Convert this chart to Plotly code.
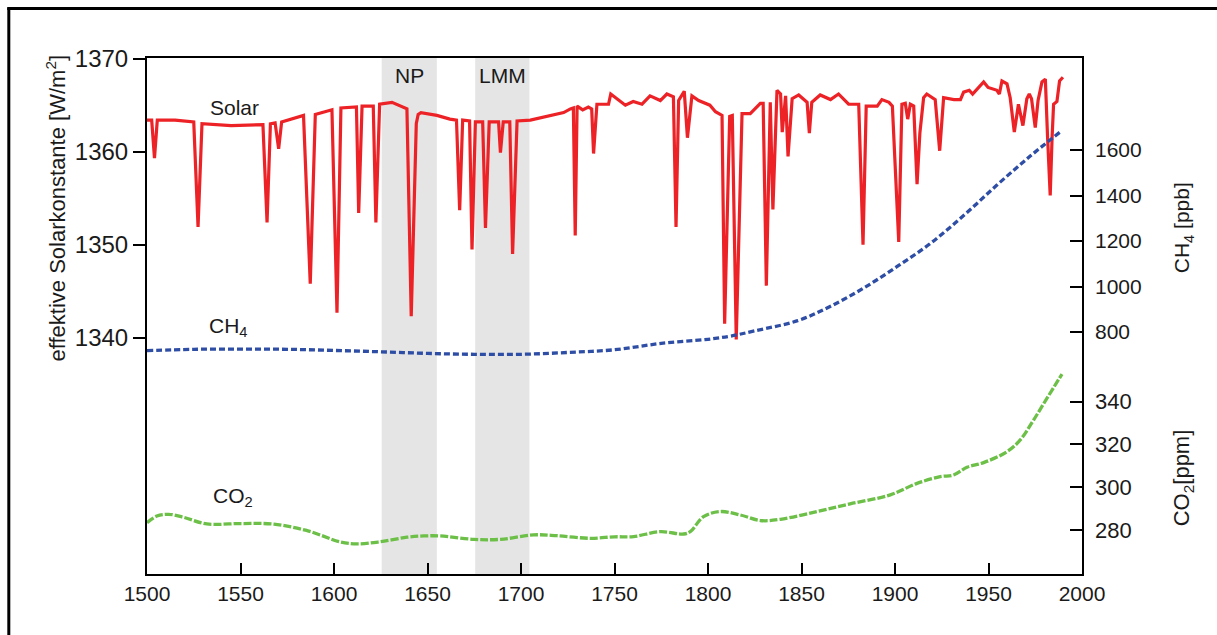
import plotly.graph_objects as go

# ---------------- data ----------------
solar_years = [1500, 1502.5, 1504, 1505.5, 1515, 1525, 1527.3, 1529.4, 1545, 1562, 1564.2, 1566, 1568.5, 1570.4, 1572,
               1583.7, 1587.3, 1590, 1598.9, 1601.6, 1603.7, 1612, 1613.2, 1615, 1621, 1622.4, 1624.4, 1631, 1639,
               1641.3, 1644, 1645, 1646.5, 1655, 1662, 1665.5, 1667.2, 1668.8, 1672.5, 1673.8, 1675.6, 1679.5, 1681,
               1683, 1688, 1689, 1690.5, 1694, 1695.5, 1697.9, 1705, 1722.8, 1726.4, 1728, 1729, 1730, 1733, 1736,
               1737.8, 1738.8, 1740.6, 1746.8, 1748, 1755.8, 1760, 1764.7, 1769, 1774.5, 1778, 1781.5, 1782.9, 1784.3,
               1787.3, 1789, 1791.4, 1795, 1801, 1804, 1807.5, 1808.9, 1811.6, 1813, 1815.1, 1818.2, 1822.6, 1828,
               1829.5, 1831.2, 1833.3, 1834.7, 1836.9, 1838.8, 1839.7, 1841.5, 1842.8, 1845, 1848.5, 1853, 1854.2,
               1855.5, 1860, 1865.5, 1869.8, 1875.2, 1880.6, 1882.9, 1884.6, 1890.5, 1893, 1896.8, 1898.6, 1902,
               1903.7, 1905.5, 1906.8, 1908.2, 1910, 1911.8, 1913.3, 1915.3, 1917, 1921.5, 1923.9, 1926, 1931.5, 1935,
               1936.7, 1939.7, 1941.5, 1947.4, 1949.8, 1954.5, 1955.8, 1957.2, 1959.9, 1961.6, 1963.8, 1966, 1968.4,
               1970.5, 1971.8, 1973, 1975, 1976.5, 1978.6, 1980.4, 1981.6, 1983, 1984, 1984.8, 1986.6, 1988, 1989.8]
solar_values = [1363.4, 1363.4, 1359.3, 1363.4, 1363.4, 1363.2, 1351.9, 1363.0, 1362.8, 1362.9, 1352.4, 1363.0, 1363.1,
                1360.3, 1363.2, 1363.9, 1345.8, 1364.0, 1364.5, 1342.7, 1364.7, 1364.8, 1353.4, 1364.9, 1364.9,
                1352.4, 1365.1, 1365.3, 1364.6, 1342.3, 1363.0, 1364.0, 1364.2, 1363.9, 1363.5, 1363.4, 1353.7,
                1363.4, 1363.3, 1349.5, 1363.2, 1363.2, 1351.8, 1363.2, 1363.2, 1359.9, 1363.2, 1363.2, 1349.0,
                1363.3, 1363.4, 1364.2, 1364.6, 1364.7, 1351.0, 1364.9, 1364.5, 1364.8, 1364.6, 1359.8, 1365.1,
                1365.1, 1366.2, 1365.0, 1365.4, 1365.1, 1366.0, 1365.5, 1366.2, 1365.9, 1351.9, 1365.5, 1366.5,
                1361.5, 1366.0, 1365.5, 1365.0, 1364.3, 1363.9, 1341.5, 1363.8, 1363.9, 1339.8, 1364.1, 1364.1,
                1365.2, 1365.2, 1345.6, 1365.3, 1353.8, 1366.6, 1366.2, 1362.1, 1366.0, 1359.5, 1365.7, 1366.1,
                1365.3, 1362.0, 1365.3, 1366.1, 1365.6, 1366.2, 1365.1, 1365.1, 1350.0, 1364.9, 1364.9, 1365.6,
                1365.3, 1364.9, 1350.3, 1365.1, 1365.2, 1363.5, 1365.1, 1364.9, 1356.5, 1362.0, 1365.8, 1366.2,
                1365.6, 1360.1, 1365.8, 1365.6, 1365.6, 1366.4, 1366.6, 1366.2, 1367.5, 1366.9, 1366.6, 1366.2,
                1367.6, 1367.3, 1365.8, 1362.1, 1365.1, 1362.8, 1365.7, 1366.2, 1365.7, 1362.6, 1365.5, 1367.5,
                1367.8, 1361.5, 1355.3, 1361.5, 1365.1, 1365.4, 1367.6, 1368.0]

ch4_years = [1500, 1525, 1550, 1575, 1600, 1625, 1650, 1675, 1700, 1725, 1750, 1775, 1800, 1812, 1825, 1848,
             1865, 1883, 1901, 1919, 1937, 1954.5, 1972, 1988.4]
ch4_values = [718, 724, 725, 724, 719, 713, 706, 702, 702, 710, 722, 750, 768, 782, 805, 850,
              911, 992, 1087, 1190, 1314, 1446, 1571, 1680]

co2_years = [1500, 1505.3, 1511.6, 1519.6, 1532, 1550, 1567.8, 1585.6, 1603.4, 1612.3, 1624.8, 1639, 1648,
             1656.8, 1674.7, 1689, 1706.7, 1719.3, 1737, 1750, 1760.2, 1774.5, 1787, 1790.5, 1797.6, 1806.6,
             1817.3, 1828, 1838.7, 1858.3, 1876, 1897.5, 1911.8, 1924.2, 1931.3, 1938.5, 1947.4, 1959.9, 1967,
             1974.1, 1981.3, 1989.3]
co2_values = [283.4, 286.5, 287.3, 285.9, 282.8, 283.0, 282.7, 279.7, 274.4, 273.5, 274.5, 276.6, 277.2,
              277.2, 275.6, 275.6, 277.7, 277.3, 276.1, 276.8, 276.9, 279.2, 278.1, 279.2, 286.2, 288.6,
              287.0, 284.4, 285.0, 288.6, 292.2, 296.4, 301.8, 304.9, 305.7, 309.3, 311.5, 316.6, 322.1,
              331.4, 341.6, 352.9]

x_ticks = [1500, 1550, 1600, 1650, 1700, 1750, 1800, 1850, 1900, 1950, 2000]
solar_ticks = [1340, 1350, 1360, 1370]
ch4_ticks = [800, 1000, 1200, 1400, 1600]
co2_ticks = [280, 300, 320, 340]
periods = [("NP", 1625.5, 1655.0), ("LMM", 1675.5, 1704.5)]

FONT = "Liberation Sans, Arial, sans-serif"
TXT = "#1a1a1a"

fig = go.Figure()
fig.add_trace(go.Scatter(x=solar_years, y=solar_values, mode="lines",
                         line=dict(color="#ec2227", width=3.2), yaxis="y", showlegend=False))
fig.add_trace(go.Scatter(x=ch4_years, y=ch4_values, mode="lines",
                         line=dict(color="#2e4da5", width=3.3, dash="6px,3px", shape="spline"),
                         yaxis="y2", showlegend=False))
fig.add_trace(go.Scatter(x=co2_years, y=co2_values, mode="lines",
                         line=dict(color="#6cbf47", width=3.3, dash="8px,2px", shape="spline"),
                         yaxis="y3", showlegend=False))

shapes = []
for name, a, b in periods:
    shapes.append(dict(type="rect", xref="x", yref="paper", x0=a, x1=b, y0=0, y1=1,
                       fillcolor="#e5e5e5", line=dict(width=0), layer="below"))
# outer frame (left and top)
shapes.append(dict(type="line", xref="paper", yref="paper", x0=-0.1478, x1=-0.1478, y0=1.0975, y1=-0.14,
                   line=dict(color="black", width=3)))
shapes.append(dict(type="line", xref="paper", yref="paper", x0=-0.1495, x1=1.15, y0=1.0959, y1=1.0959,
                   line=dict(color="black", width=3)))


def ann(text, x, y, xref, yref, size, angle=0):
    return dict(text=text, x=x, y=y, xref=xref, yref=yref, showarrow=False, textangle=angle,
                xanchor="center", yanchor="middle", font=dict(size=size, color=TXT, family=FONT))


annotations = []
for name, a, b in periods:
    annotations.append(ann(name, (a + b) / 2, 1368.2, "x", "y", 21))
annotations += [
    ann("Solar", 1546.7, 1364.7, "x", "y", 21),
    ann("CH<sub>4</sub>", 1543.5, 1341.2, "x", "y", 21),
    ann("CO<sub>2</sub>", 1545.8, 1322.9, "x", "y", 21),
    ann("effektive Solarkonstante [W/m<sup>2</sup>]", -0.097, 0.709, "paper", "paper", 22, -90),
    ann("CH<sub>4</sub> [ppb]", 1.1083, 0.6705, "paper", "paper", 21, -90),
    ann("CO<sub>2</sub>[ppm]", 1.1083, 0.186, "paper", "paper", 22, -90),
]

fig.update_layout(
    width=1217, height=635,
    margin=dict(l=147, r=135, t=58, b=61, pad=0),
    paper_bgcolor="white", plot_bgcolor="white",
    font=dict(family=FONT, color=TXT),
    xaxis=dict(range=[1500, 2000], tickvals=x_ticks, ticks="inside", ticklen=11, tickwidth=1.5,
               tickcolor="black", showline=True, linecolor="black", linewidth=2, mirror=True,
               showgrid=False, zeroline=False, tickfont=dict(size=21), ticklabelstandoff=0),
    yaxis=dict(range=[1314.6, 1370.07], tickvals=solar_ticks, ticks="outside", ticklen=12, tickwidth=1.5,
               tickcolor="black", showline=True, linecolor="black", linewidth=2, mirror=True,
               showgrid=False, zeroline=False, tickfont=dict(size=24)),
    yaxis2=dict(range=[-263.7, 2004.4], tickvals=ch4_ticks, ticks="inside", ticklen=12, tickwidth=1.5,
                tickcolor="black", overlaying="y", side="right", anchor="x", showline=False,
                showgrid=False, zeroline=False, tickfont=dict(size=21), ticklabelstandoff=12),
    yaxis3=dict(range=[259.4, 500.7], tickvals=co2_ticks, ticks="inside", ticklen=12, tickwidth=1.5,
                tickcolor="black", overlaying="y", side="right", anchor="x", showline=False,
                showgrid=False, zeroline=False, tickfont=dict(size=22), ticklabelstandoff=12),
    shapes=shapes,
    annotations=annotations,
)

fig.write_html("out.html")
